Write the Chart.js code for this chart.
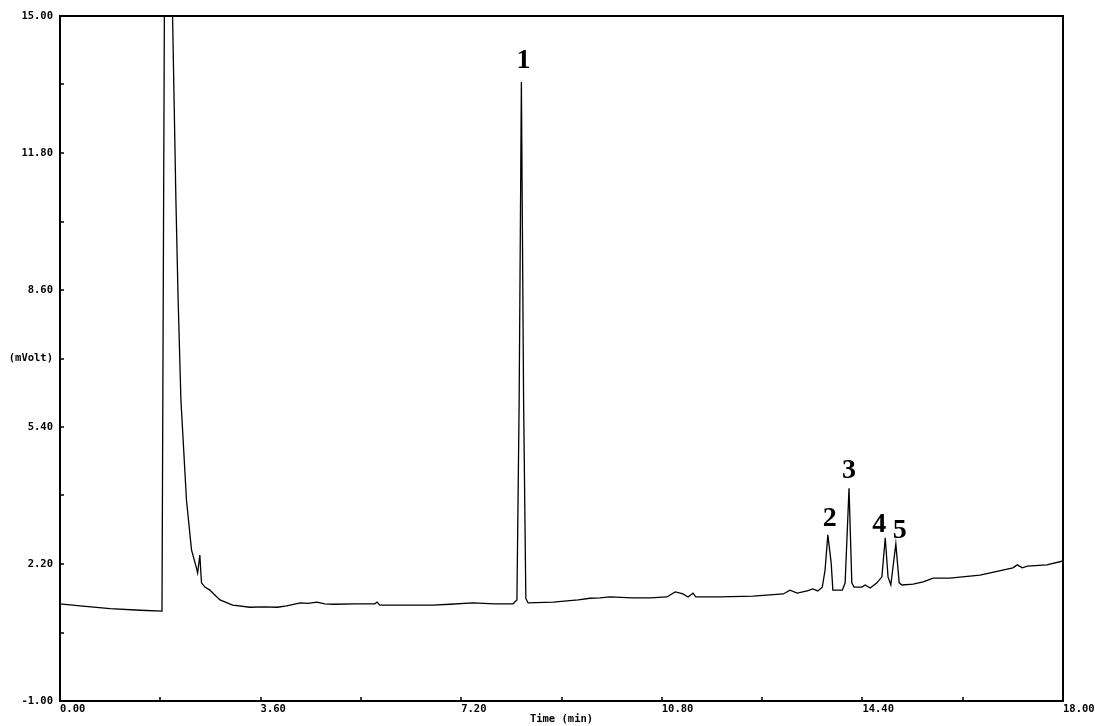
<!DOCTYPE html>
<html>
<head>
<meta charset="utf-8">
<title>Chromatogram</title>
<script src="https://cdn.jsdelivr.net/npm/chart.js@4.4.0/dist/chart.umd.min.js"></script>
<style>
    body { margin: 0; background: #fff; }
    #wrap { width: 1095px; height: 726px; position: relative; }
</style>
</head>
<body>
<div id="wrap"><canvas id="chromChart"></canvas></div>
<script>
// Retention time (min) and detector signal (mVolt)
const times = [
    0.00, 0.36, 0.90, 1.44, 1.83, 1.95, 2.02, 2.08, 2.12, 2.17,
    2.27, 2.36, 2.44, 2.47, 2.51, 2.53, 2.54, 2.60, 2.69, 2.76,
    2.87, 3.10, 3.41, 3.65, 3.90, 4.07, 4.31, 4.45, 4.61, 4.75,
    4.90, 5.30, 5.65, 5.69, 5.74, 6.20, 6.69, 7.00, 7.41, 7.80,
    8.13, 8.20, 8.24, 8.28, 8.32, 8.36, 8.40, 8.85, 9.30, 9.51,
    9.69, 9.87, 10.27, 10.59, 10.89, 11.04, 11.13, 11.18, 11.27, 11.36,
    11.41, 11.85, 12.44, 12.98, 13.10, 13.23, 13.41, 13.51, 13.60, 13.68,
    13.73, 13.78, 13.84, 13.87, 14.04, 14.09, 14.16, 14.21, 14.25, 14.39,
    14.45, 14.54, 14.66, 14.75, 14.81, 14.86, 14.91, 15.00, 15.06, 15.11,
    15.31, 15.49, 15.67, 15.97, 16.51, 17.10, 17.18, 17.27, 17.36, 17.71,
    18.00
];
const signal = [
    1.27, 1.22, 1.16, 1.12, 1.10, 40.0, 15.0, 10.70, 8.37, 6.03,
    3.69, 2.53, 2.15, 1.99, 2.41, 1.95, 1.76, 1.66, 1.59, 1.50,
    1.36, 1.24, 1.19, 1.20, 1.19, 1.22, 1.29, 1.28, 1.31, 1.27,
    1.26, 1.27, 1.27, 1.31, 1.24, 1.24, 1.24, 1.26, 1.29, 1.27,
    1.27, 1.36, 6.00, 13.46, 6.00, 1.40, 1.29, 1.31, 1.36, 1.40,
    1.41, 1.43, 1.41, 1.41, 1.43, 1.55, 1.52, 1.50, 1.43, 1.52,
    1.43, 1.43, 1.45, 1.50, 1.59, 1.52, 1.57, 1.62, 1.57, 1.66,
    2.06, 2.88, 2.22, 1.59, 1.59, 1.76, 3.97, 1.76, 1.66, 1.66,
    1.71, 1.64, 1.76, 1.90, 2.81, 1.90, 1.71, 2.67, 1.76, 1.71,
    1.73, 1.78, 1.87, 1.87, 1.94, 2.11, 2.18, 2.11, 2.15, 2.18,
    2.27
];

// Axis ticks (every other one carries a label)
const xTickValues = [0, 1.8, 3.6, 5.4, 7.2, 9.0, 10.8, 12.6, 14.4, 16.2, 18.0];
const xTickLabels = ['0.00', '', '3.60', '', '7.20', '', '10.80', '', '14.40', '', '18.00'];
const yTickValues = [-1, 0.6, 2.2, 3.8, 5.4, 7.0, 8.6, 10.2, 11.8, 13.4, 15];
const yTickLabels = ['-1.00', '', '2.20', '', '5.40', '(mVolt)', '8.60', '', '11.80', '', '15.00'];

// Numbered peaks
const peakTimes = [8.28, 13.78, 14.16, 14.81, 15.00];
const peakNames = ['1', '2', '3', '4', '5'];

// pixel nudges for the peak numbers (dx, dy from the apex)
const labelNudge = [[2, -14], [2, -9], [0, -10], [-6, -6], [4, -6]];

const monoFont = { family: '"DejaVu Sans Mono", "Liberation Mono", monospace', size: 10.5, weight: 'bold' };

// Box round the plot and short inward tick marks
const framePlugin = {
    id: 'frame',
    afterDraw(chart) {
        const { ctx, chartArea: a, scales } = chart;
        ctx.save();
        ctx.strokeStyle = '#000';
        ctx.lineWidth = 2;
        ctx.strokeRect(a.left, a.top, a.right - a.left, a.bottom - a.top);
        ctx.lineWidth = 1.5;
        ctx.beginPath();
        scales.x.ticks.forEach(t => {
            const px = Math.round(scales.x.getPixelForValue(t.value));
            ctx.moveTo(px, a.bottom);
            ctx.lineTo(px, a.bottom - 4);
        });
        scales.y.ticks.forEach(t => {
            const py = Math.round(scales.y.getPixelForValue(t.value));
            ctx.moveTo(a.left, py);
            ctx.lineTo(a.left + 4, py);
        });
        ctx.stroke();
        ctx.restore();
    }
};

// Peak numbers above each apex
const peakLabelPlugin = {
    id: 'peakLabels',
    afterDatasetsDraw(chart) {
        const { ctx, scales } = chart;
        ctx.save();
        ctx.fillStyle = '#000';
        ctx.font = 'bold 28px "Liberation Serif", "DejaVu Serif", serif';
        ctx.textAlign = 'center';
        ctx.textBaseline = 'alphabetic';
        peakTimes.forEach((t, i) => {
            const idx = times.indexOf(t);
            const px = scales.x.getPixelForValue(t);
            const py = scales.y.getPixelForValue(signal[idx]);
            const [dx, dy] = labelNudge[i];
            ctx.fillText(peakNames[i], px + dx, py + dy);
        });
        ctx.restore();
    }
};

new Chart(document.getElementById('chromChart'), {
    type: 'line',
    data: {
        datasets: [{
            data: times.map((t, i) => ({ x: t, y: signal[i] })),
            borderColor: '#000',
            borderWidth: 1.3,
            pointRadius: 0,
            tension: 0,
            fill: false
        }]
    },
    options: {
        responsive: true,
        maintainAspectRatio: false,
        animation: false,
        layout: { padding: { top: 16, right: 32, left: 0, bottom: 0 } },
        plugins: {
            legend: { display: false },
            tooltip: { enabled: false }
        },
        scales: {
            x: {
                type: 'linear',
                min: 0,
                max: 18,
                afterBuildTicks: s => { s.ticks = xTickValues.map(v => ({ value: v })); },
                afterFit: s => { s.height = 25; s.paddingLeft = 0; s.paddingRight = 0; },
                ticks: {
                    autoSkip: false,
                    maxRotation: 0,
                    minRotation: 0,
                    align: 'start',
                    padding: 2,
                    color: '#000',
                    font: monoFont,
                    callback: (v, i) => xTickLabels[i]
                },
                grid: { display: false, drawTicks: false },
                border: { display: false },
                title: { display: true, text: 'Time (min)', color: '#000', font: monoFont, padding: 0 }
            },
            y: {
                type: 'linear',
                min: -1,
                max: 15,
                afterBuildTicks: s => { s.ticks = yTickValues.map(v => ({ value: v })); },
                afterFit: s => { s.width = 60; s.paddingTop = 0; s.paddingBottom = 0; },
                ticks: {
                    autoSkip: false,
                    padding: 7,
                    color: '#000',
                    font: monoFont,
                    callback: (v, i) => yTickLabels[i]
                },
                grid: { display: false, drawTicks: false },
                border: { display: false }
            }
        }
    },
    plugins: [framePlugin, peakLabelPlugin]
});
</script>
</body>
</html>
